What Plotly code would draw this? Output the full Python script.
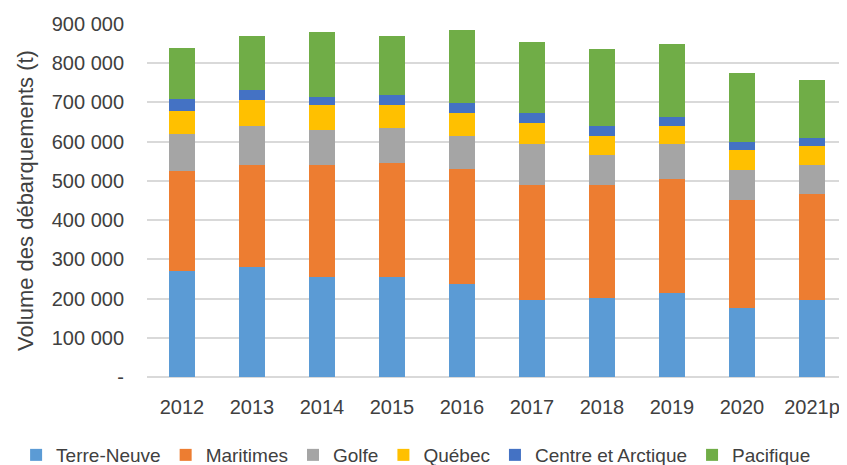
import plotly.graph_objects as go

years = ["2012", "2013", "2014", "2015", "2016", "2017", "2018", "2019", "2020", "2021p"]
terre_neuve = [271000, 281000, 255000, 255000, 238000, 197000, 202000, 213000, 175000, 197000]
maritimes = [254000, 260000, 286000, 291000, 292000, 292000, 287000, 291000, 276000, 270000]
golfe = [95000, 100000, 90000, 90000, 84000, 106000, 78000, 90000, 78000, 74000]
quebec = [59000, 64000, 63000, 58000, 58000, 53000, 48000, 47000, 49000, 48000]
centre_arctique = [31000, 26000, 21000, 26000, 26000, 26000, 26000, 21000, 21000, 21000]
pacifique = [128000, 138000, 164000, 149000, 186000, 180000, 196000, 186000, 175000, 148000]

y_tickvals = [0, 100000, 200000, 300000, 400000, 500000, 600000, 700000, 800000, 900000]
y_ticktext = ["-", "100 000", "200 000", "300 000", "400 000", "500 000",
              "600 000", "700 000", "800 000", "900 000"]

series = [
    ("Terre-Neuve", terre_neuve, "#5B9BD5"),
    ("Maritimes", maritimes, "#ED7D31"),
    ("Golfe", golfe, "#A5A5A5"),
    ("Québec", quebec, "#FFC000"),
    ("Centre et Arctique", centre_arctique, "#4472C4"),
    ("Pacifique", pacifique, "#70AD47"),
]

font_family = "Liberation Sans, Arial, sans-serif"

fig = go.Figure()
for name, vals, color in series:
    fig.add_trace(go.Bar(x=years, y=vals, name=name,
                         marker=dict(color=color, line=dict(width=0))))

# The page body has an 8px margin, so the figure is sized to fit the 847x465 window.
fig.update_layout(
    barmode="stack",
    bargap=0.615,
    width=839, height=457,
    margin=dict(l=139, r=0, t=16, b=88, autoexpand=False),
    paper_bgcolor="white", plot_bgcolor="white",
    font=dict(family=font_family, size=20, color="#404040"),
    showlegend=True,
    legend=dict(orientation="h", x=-0.187, xanchor="left", y=-0.221, yanchor="middle",
                traceorder="normal", font=dict(size=19, color="#404040"),
                itemwidth=30, tracegroupgap=0, borderwidth=0),
)
fig.update_xaxes(showgrid=False, showline=False, ticks="", ticklabelstandoff=16,
                 automargin=False, tickfont=dict(size=20, color="#404040"))
fig.update_yaxes(range=[0, 900000], tickvals=y_tickvals, ticktext=y_ticktext,
                 showgrid=True, gridcolor="#D9D9D9", gridwidth=1.5,
                 zeroline=True, zerolinecolor="#D9D9D9", zerolinewidth=1.5,
                 showline=False, ticks="", ticklabelstandoff=22, automargin=False,
                 tickfont=dict(size=20, color="#404040"),
                 title=dict(text="Volume des débarquements (t)", standoff=12,
                            font=dict(size=22, color="#404040")))

fig.write_html("out.html")
